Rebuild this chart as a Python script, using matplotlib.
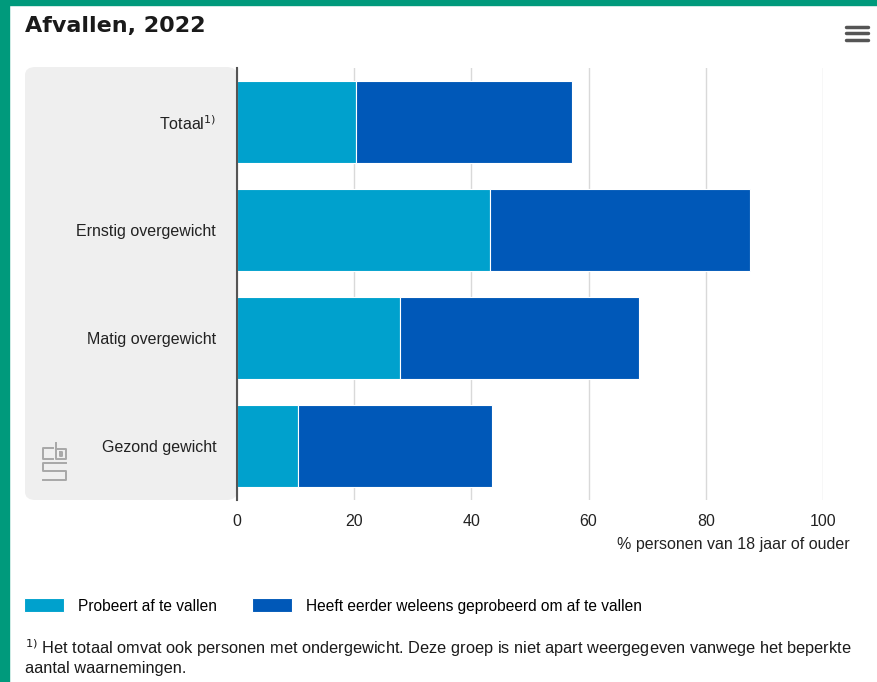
import matplotlib.pyplot as plt
from matplotlib.patches import FancyBboxPatch, Rectangle
from matplotlib.lines import Line2D

categories = ["Totaal$^{1)}$", "Ernstig overgewicht", "Matig overgewicht", "Gezond gewicht"]
probeert = [20.3, 43.2, 27.8, 10.4]
eerder = [36.9, 44.4, 40.8, 33.1]
ticks = [0, 20, 40, 60, 80, 100]

light = "#00a1cd"
dark = "#0058b8"
W, H = 877, 682

plt.rcParams['font.family'] = ['Liberation Sans Narrow', 'Liberation Sans', 'DejaVu Sans']

fig = plt.figure(figsize=(W / 100, H / 100), dpi=100)

def fx(px):
    return px / W

def fy(py):
    return 1 - py / H

# green frame
fig.patches.append(Rectangle((0, fy(5)), 1, 5 / H, transform=fig.transFigure, color="#009a7c", zorder=-2))
fig.patches.append(Rectangle((0, 0), 9 / W, 1, transform=fig.transFigure, color="#009a7c", zorder=-2))

# grey category band
fig.patches.append(FancyBboxPatch((fx(25), fy(500)), fx(237) - fx(25), (500 - 67) / H,
                                  boxstyle="round,pad=0,rounding_size=0.012",
                                  transform=fig.transFigure, facecolor="#efefef",
                                  edgecolor="none", zorder=-2))

# cbs logo (rough)
for xs, ys in [([53, 43, 43, 53], [448, 448, 459, 459]),
               ([56, 56, 66, 66, 56], [443, 459, 459, 449, 449]),
               ([60, 62, 62, 60, 60], [452, 452, 456, 456, 452]),
               ([66, 43, 43, 66, 66, 43], [463, 463, 471, 471, 480, 480])]:
    fig.lines.append(Line2D([fx(v) for v in xs], [fy(v) for v in ys], transform=fig.transFigure,
                            color="#a8a8a8", linewidth=1.4, zorder=-1))

ax = fig.add_axes([fx(237), fy(500), fx(823) - fx(237), (500 - 68) / H])
ax.set_facecolor("none")
y = list(range(len(categories)))
ax.barh(y, probeert, height=0.76, color=light, edgecolor="white", linewidth=0.8, zorder=3,
        label="Probeert af te vallen")
ax.barh(y, eerder, left=probeert, height=0.76, color=dark, edgecolor="white", linewidth=0.8, zorder=3,
        label="Heeft eerder weleens geprobeerd om af te vallen")
ax.set_ylim(3.5, -0.5)
ax.set_xlim(0, 100)
ax.set_xticks(ticks)
ax.set_xticklabels([str(t) for t in ticks], fontsize=11.5, color="#222222")
ax.set_yticks(y)
ax.set_yticklabels(categories, fontsize=11.5, color="#222222")
ax.tick_params(axis="y", length=0, pad=15)
ax.tick_params(axis="x", length=0, pad=10)
ax.grid(axis="x", color="#d9d9d9", linewidth=1, zorder=0)
for s in ["top", "right", "bottom"]:
    ax.spines[s].set_visible(False)
ax.spines["left"].set_color("#555555")
ax.spines["left"].set_linewidth(1.5)
ax.spines["left"].set_zorder(4)
ax.set_xlabel("% personen van 18 jaar of ouder", fontsize=11.5, color="#222222")
ax.xaxis.set_label_coords((850 - 237) / (823 - 237), -0.085)
ax.xaxis.label.set_horizontalalignment("right")

fig.text(fx(25), fy(26), "Afvallen, 2022", fontsize=16, fontweight="bold",
         family="DejaVu Sans", color="#1a1a1a", va="center")

# menu icon
for py in [27, 33, 40]:
    fig.lines.append(Line2D([fx(846), fx(868)], [fy(py), fy(py)], transform=fig.transFigure,
                            color="#555555", linewidth=2.5, solid_capstyle="round"))

# legend
handles, labels = ax.get_legend_handles_labels()
fig.legend(handles, labels, loc="center left", bbox_to_anchor=(fx(10), fy(606)), ncol=2,
           frameon=False, fontsize=11.2, handlelength=2.6, handleheight=1.0,
           columnspacing=2.2, handletextpad=0.9)

fig.text(fx(25), fy(648), "$^{1)}$ Het totaal omvat ook personen met ondergewicht. Deze groep is niet apart "
         "weergegeven vanwege het beperkte", fontsize=11.8, color="#1a1a1a", va="center")
fig.text(fx(25), fy(669), "aantal waarnemingen.", fontsize=11.8, color="#1a1a1a", va="center")

fig.savefig("out.png", dpi=100)
